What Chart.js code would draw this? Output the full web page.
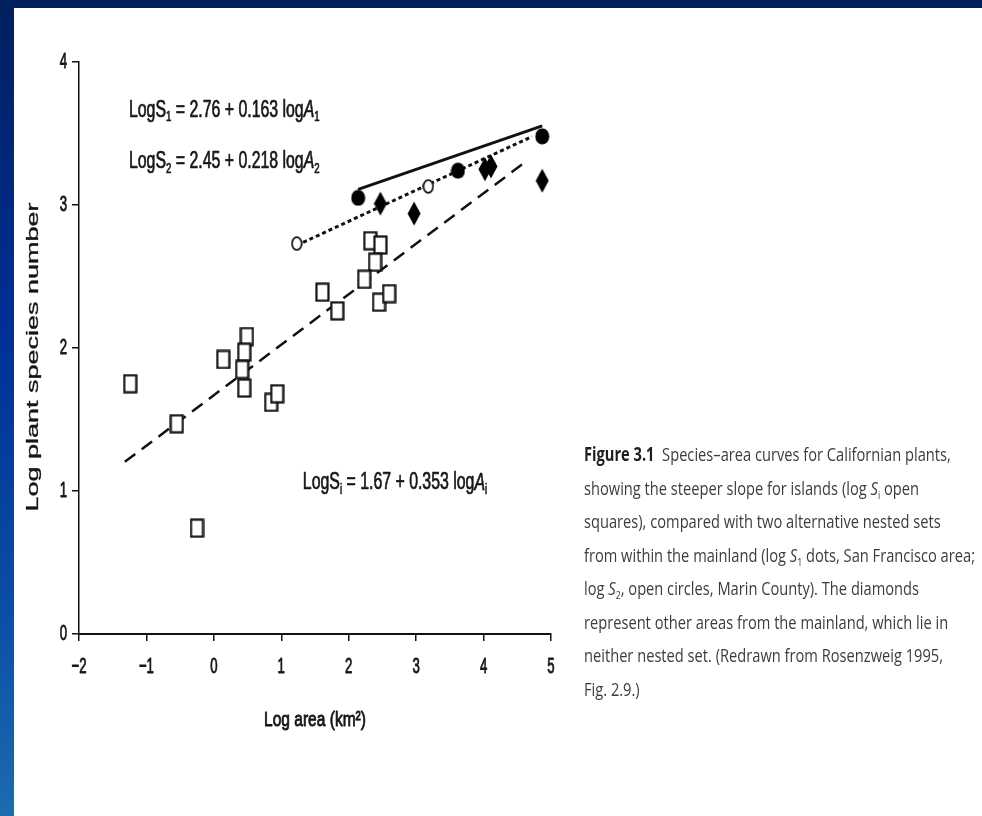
<!DOCTYPE html>
<html>
<head>
<meta charset="utf-8">
<title>Species–area curves for Californian plants</title>
<script src="https://cdn.jsdelivr.net/npm/chart.js@4.4.1/dist/chart.umd.min.js"></script>
<style>
  html, body { margin: 0; padding: 0; width: 982px; height: 816px; overflow: hidden; background: #fff; }
  #frameTop { position: absolute; left: 0; top: 0; width: 982px; height: 8px; background: #001f5e; }
  #frameLeft { position: absolute; left: 0; top: 0; width: 14px; height: 816px;
    background: linear-gradient(to bottom, #001f5e 0%, #002f96 40%, #0a4ea6 75%, #1c6cae 100%); }
  #chart { position: absolute; left: 0; top: 0; }
  #caption { position: absolute; left: 584px; top: 438px; font-family: 'Open Sans', 'Liberation Sans', sans-serif;
    font-size: 19px; color: #3c3c3c; white-space: nowrap; transform-origin: 0 0; }
  #caption .ln { display: table; line-height: 33.5px; }
  #caption b { color: #1e1e1e; }
  #caption sub { font-size: 0.6em; line-height: 0; vertical-align: -0.35em; }
</style>
</head>
<body>
<div id="frameTop"></div>
<div id="frameLeft"></div>
<canvas id="chart" width="982" height="816"></canvas>
<div id="caption">
  <div class="ln"><b>Figure 3.1</b>&nbsp; Species–area curves for Californian plants,</div>
  <div class="ln">showing the steeper slope for islands (log <i>S</i><sub>i</sub> open</div>
  <div class="ln">squares), compared with two alternative nested sets</div>
  <div class="ln">from within the mainland (log <i>S</i><sub>1</sub> dots, San Francisco area;</div>
  <div class="ln">log <i>S</i><sub>2</sub>, open circles, Marin County). The diamonds</div>
  <div class="ln">represent other areas from the mainland, which lie in</div>
  <div class="ln">neither nested set. (Redrawn from Rosenzweig 1995,</div>
  <div class="ln">Fig. 2.9.)</div>
</div>
<script>
// Axis ticks
const xTicks = [-2, -1, 0, 1, 2, 3, 4, 5];
const xTickLabels = ['−2', '−1', '0', '1', '2', '3', '4', '5'];
const yTicks = [0, 1, 2, 3, 4];
const yTickLabels = ['0', '1', '2', '3', '4'];

// Islands (open squares): log area, log species
const islandArea    = [-1.24, -0.55, -0.25, 0.14, 0.49, 0.45, 0.42, 0.45, 0.85, 0.94, 1.61, 1.83, 2.32, 2.47, 2.39, 2.23, 2.45, 2.60];
const islandSpecies = [ 1.75,  1.47,  0.74, 1.92, 2.08, 1.97, 1.85, 1.72, 1.62, 1.68, 2.39, 2.26, 2.75, 2.72, 2.60, 2.48, 2.32, 2.38];

// San Francisco area nested set (filled dots)
const sfArea    = [2.14, 3.62, 4.87];
const sfSpecies = [3.05, 3.24, 3.48];

// Marin County nested set (open circles)
const marinArea    = [1.23, 3.18];
const marinSpecies = [2.73, 3.13];

// Other mainland areas (diamonds)
const otherArea    = [2.47, 2.97, 4.02, 4.11, 4.87];
const otherSpecies = [3.01, 2.94, 3.25, 3.27, 3.17];

// Fitted lines: logS = intercept + slope * logA  (S1, S2, Si)
const fitIntercept = [2.76, 2.45, 1.67];
const fitSlope     = [0.163, 0.218, 0.353];
const fitSub       = ['1', '2', 'i'];
const fitFrom      = [2.14, 1.23, -1.32];
const fitTo        = [4.87, 4.72, 4.60];

const xy = (xs, ys) => xs.map((x, i) => ({ x, y: ys[i] }));
const fitPoints = k => [fitFrom[k], fitTo[k]].map(x => ({ x, y: fitIntercept[k] + fitSlope[k] * x }));

// Marker glyphs (drawn tall, like the printed figure)
function glyph(w, h, paint) {
  const c = document.createElement('canvas');
  c.width = w; c.height = h;
  paint(c.getContext('2d'), w, h);
  return c;
}
const squareMark = glyph(15, 20, (g, w, h) => {
  g.fillStyle = '#fff'; g.fillRect(1, 1, w - 2, h - 2);
  g.strokeStyle = '#111'; g.lineWidth = 2.2; g.strokeRect(1.5, 1.5, w - 3, h - 3);
});
const dotMark = glyph(15, 17, (g, w, h) => {
  g.fillStyle = '#000'; g.beginPath();
  g.ellipse(w / 2, h / 2, w / 2 - 0.5, h / 2 - 0.5, 0, 0, Math.PI * 2); g.fill();
});
const ringMark = glyph(12, 15, (g, w, h) => {
  g.fillStyle = '#fff'; g.strokeStyle = '#111'; g.lineWidth = 1.8; g.beginPath();
  g.ellipse(w / 2, h / 2, w / 2 - 1.2, h / 2 - 1.2, 0, 0, Math.PI * 2); g.fill(); g.stroke();
});
const diamondMark = glyph(14, 25, (g, w, h) => {
  g.fillStyle = '#000'; g.beginPath();
  g.moveTo(w / 2, 0.5); g.lineTo(w - 0.5, h / 2); g.lineTo(w / 2, h - 0.5); g.lineTo(0.5, h / 2);
  g.closePath(); g.fill();
});

const FONT = "'Liberation Sans', Arial, Helvetica, sans-serif";
const INK = '#161616';

// Draws a run of text segments, horizontally condensed by sx, with a light outline for weight.
function drawRun(ctx, segs, x, y, sx, align, weight) {
  let total = 0;
  segs.forEach(s => { ctx.font = s.font; s.w = ctx.measureText(s.t).width; total += s.w; });
  let cx = align === 'center' ? -total / 2 : align === 'right' ? -total : 0;
  ctx.save();
  ctx.translate(x, y);
  ctx.scale(sx, 1);
  ctx.textAlign = 'left';
  ctx.textBaseline = 'middle';
  ctx.fillStyle = INK;
  ctx.strokeStyle = INK;
  ctx.lineWidth = weight || 0;
  ctx.lineJoin = 'round';
  segs.forEach(s => {
    ctx.font = s.font;
    ctx.fillText(s.t, cx, s.dy || 0);
    if (weight) ctx.strokeText(s.t, cx, s.dy || 0);
    cx += s.w;
  });
  ctx.restore();
}

const figureText = {
  id: 'figureText',
  afterDraw(chart) {
    const ctx = chart.ctx;
    const xs = chart.scales.x, ys = chart.scales.y, area = chart.chartArea;

    // tick labels
    xs.ticks.forEach((t, i) => {
      drawRun(ctx, [{ t: xTickLabels[i], font: `22px ${FONT}` }], xs.getPixelForValue(t.value), area.bottom + 33, 0.6, 'center', 0.9);
    });
    ys.ticks.forEach((t, i) => {
      drawRun(ctx, [{ t: yTickLabels[i], font: `22px ${FONT}` }], area.left - 12, ys.getPixelForValue(t.value), 0.6, 'right', 0.9);
    });

    // axis titles
    drawRun(ctx, [{ t: 'Log area (km²)', font: `21px ${FONT}` }], (xs.left + xs.right) / 2 + 0, area.bottom + 86, 0.74, 'center', 0.9);
    ctx.save();
    ctx.translate(33, (area.top + area.bottom) / 2 + 9);
    ctx.scale(0.62, 1);
    ctx.rotate(-Math.PI / 2);
    ctx.font = `27px ${FONT}`;
    ctx.fillStyle = INK;
    ctx.strokeStyle = INK;
    ctx.lineWidth = 0.5;
    ctx.textAlign = 'center';
    ctx.textBaseline = 'middle';
    ctx.fillText('Log plant species number', 0, 0);
    ctx.strokeText('Log plant species number', 0, 0);
    ctx.restore();

    // regression equations
    const anchors = [[-1.26, 3.66], [-1.26, 3.30], [1.32, 1.055]];
    fitIntercept.forEach((a, k) => {
      const sub = fitSub[k];
      const segs = [
        { t: 'LogS', font: `23px ${FONT}` },
        { t: sub, font: `14px ${FONT}`, dy: 7 },
        { t: ` = ${a.toFixed(2)} + ${fitSlope[k].toFixed(3)} log`, font: `23px ${FONT}` },
        { t: 'A', font: `italic 23px ${FONT}` },
        { t: sub, font: `14px ${FONT}`, dy: 7 }
      ];
      drawRun(ctx, segs, xs.getPixelForValue(anchors[k][0]), ys.getPixelForValue(anchors[k][1]), 0.69, 'left', 0.7);
    });
  }
};

const axisStyle = {
  grid: { drawOnChartArea: false, drawTicks: true, tickLength: 7, color: '#111', lineWidth: 1.5 },
  ticks: { display: false },
  title: { display: false }
};

new Chart(document.getElementById('chart'), {
  type: 'scatter',
  data: {
    datasets: [
      { label: 'Other mainland areas', data: xy(otherArea, otherSpecies), pointStyle: diamondMark, pointRadius: 5 },
      { label: 'San Francisco area', data: xy(sfArea, sfSpecies), pointStyle: dotMark, pointRadius: 5 },
      { label: 'Marin County', data: xy(marinArea, marinSpecies), pointStyle: ringMark, pointRadius: 5 },
      { label: 'Islands', data: xy(islandArea, islandSpecies), pointStyle: squareMark, pointRadius: 5 },
      { label: 'log S1 fit', type: 'line', data: fitPoints(0), borderColor: '#111', borderWidth: 3, pointRadius: 0 },
      { label: 'log S2 fit', type: 'line', data: fitPoints(1), borderColor: '#111', borderWidth: 3, borderDash: [4, 3], pointRadius: 0 },
      { label: 'log Si fit', type: 'line', data: fitPoints(2), borderColor: '#111', borderWidth: 2.5, borderDash: [13, 8], pointRadius: 0 }
    ]
  },
  options: {
    responsive: false,
    animation: false,
    devicePixelRatio: 1,
    clip: false,
    layout: { padding: { left: 69, top: 62, right: 431, bottom: 172 } },
    plugins: { legend: { display: false }, tooltip: { enabled: false } },
    scales: {
      x: {
        type: 'linear', min: -2, max: 5,
        afterBuildTicks: s => { s.ticks = xTicks.map(v => ({ value: v })); },
        afterFit: s => { s.height = 10; },
        border: { display: true, color: '#111', width: 2 },
        ...axisStyle
      },
      y: {
        type: 'linear', min: 0, max: 4,
        afterBuildTicks: s => { s.ticks = yTicks.map(v => ({ value: v })); },
        afterFit: s => { s.width = 10; },
        border: { display: true, color: '#111', width: 1.5 },
        ...axisStyle
      }
    }
  },
  plugins: [figureText]
});

// Fit the caption block to its column width
const cap = document.getElementById('caption');
let widest = 0;
cap.querySelectorAll('.ln').forEach(l => { widest = Math.max(widest, l.getBoundingClientRect().width); });
cap.style.transform = `scaleX(${(391 / widest).toFixed(4)})`;
</script>
</body>
</html>
